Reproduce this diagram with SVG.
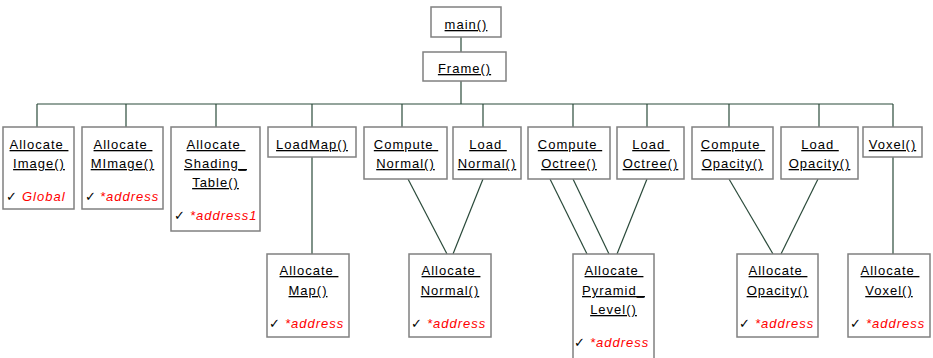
<svg xmlns="http://www.w3.org/2000/svg" width="933" height="358" viewBox="0 0 933 358">
<style>
.box{fill:#fff;stroke:#808080;stroke-width:1.5}
.c{stroke:#2a4a3a;stroke-width:1.2;fill:none}
.t{font-family:"Liberation Sans",Arial,sans-serif;font-size:13px;letter-spacing:1px;fill:#000;text-anchor:middle;text-decoration:underline;white-space:pre}
.ck{font-family:"DejaVu Sans",sans-serif;font-size:13px;fill:#000}
.r{font-family:"Liberation Sans",Arial,sans-serif;font-size:13px;font-style:italic;letter-spacing:1px;fill:#ff0000}
</style>
<rect width="933" height="358" fill="#fff"/>
<g id="connectors">
<line class="c" x1="461" y1="37" x2="461" y2="52"/>
<line class="c" x1="461" y1="81" x2="461" y2="104"/>
<line class="c" x1="37" y1="104" x2="893" y2="104"/>
<line class="c" x1="37" y1="104" x2="37" y2="127"/>
<line class="c" x1="126" y1="104" x2="126" y2="127"/>
<line class="c" x1="216" y1="104" x2="216" y2="127"/>
<line class="c" x1="312" y1="104" x2="312" y2="127"/>
<line class="c" x1="402" y1="104" x2="402" y2="127"/>
<line class="c" x1="483" y1="104" x2="483" y2="127"/>
<line class="c" x1="573" y1="104" x2="573" y2="127"/>
<line class="c" x1="647" y1="104" x2="647" y2="127"/>
<line class="c" x1="729" y1="104" x2="729" y2="127"/>
<line class="c" x1="819" y1="104" x2="819" y2="127"/>
<line class="c" x1="893" y1="104" x2="893" y2="127"/>
<line class="c" x1="312" y1="157" x2="312" y2="254"/>
<line class="c" x1="408" y1="179" x2="447" y2="254"/>
<line class="c" x1="483" y1="179" x2="453" y2="254"/>
<line class="c" x1="550" y1="179" x2="587" y2="254"/>
<line class="c" x1="573" y1="179" x2="609" y2="254"/>
<line class="c" x1="647" y1="179" x2="617" y2="254"/>
<line class="c" x1="729" y1="179" x2="773" y2="254"/>
<line class="c" x1="818" y1="179" x2="781" y2="254"/>
<line class="c" x1="893" y1="157" x2="893" y2="254"/>
</g>
<g id="main"><rect class="box" x="431" y="7" width="70" height="30"/><text class="t" x="466" y="29">main()</text></g>
<g id="frame"><rect class="box" x="423" y="52" width="83" height="29"/><text class="t" x="464.5" y="73">Frame()</text></g>
<g id="allocateImage"><rect class="box" x="3" y="127" width="71" height="82"/>
<text class="t" x="39" y="149">Allocate </text><text class="t" x="39" y="168">Image()</text>
<text class="ck" x="6" y="201">✓</text><text class="r" x="22" y="201">Global</text></g>
<g id="allocateMImage"><rect class="box" x="82" y="127" width="81" height="82"/>
<text class="t" x="123" y="149">Allocate </text><text class="t" x="122.5" y="168">MImage()</text>
<text class="ck" x="85" y="201">✓</text><text class="r" x="100" y="201">*address</text></g>
<g id="allocateShadingTable"><rect class="box" x="171" y="127" width="89" height="104"/>
<text class="t" x="216" y="149">Allocate </text><text class="t" x="215.5" y="168">Shading_</text><text class="t" x="215.5" y="187">Table()</text>
<text class="ck" x="174" y="220">✓</text><text class="r" x="190" y="220">*address1</text></g>
<g id="loadMap"><rect class="box" x="268" y="127" width="88" height="30"/><text class="t" x="312" y="149">LoadMap()</text></g>
<g id="computeNormal"><rect class="box" x="364" y="127" width="83" height="52"/>
<text class="t" x="406" y="149">Compute </text><text class="t" x="405.5" y="168">Normal()</text></g>
<g id="loadNormal"><rect class="box" x="453" y="127" width="68" height="52"/>
<text class="t" x="488" y="149">Load </text><text class="t" x="487" y="168">Normal()</text></g>
<g id="computeOctree"><rect class="box" x="528" y="127" width="82" height="52"/>
<text class="t" x="570" y="149">Compute </text><text class="t" x="569" y="168">Octree()</text></g>
<g id="loadOctree"><rect class="box" x="617" y="127" width="67" height="52"/>
<text class="t" x="651" y="149">Load </text><text class="t" x="650.5" y="168">Octree()</text></g>
<g id="computeOpacity"><rect class="box" x="692" y="127" width="81" height="52"/>
<text class="t" x="733" y="149">Compute </text><text class="t" x="732.5" y="168">Opacity()</text></g>
<g id="loadOpacity"><rect class="box" x="781" y="127" width="77" height="52"/>
<text class="t" x="820" y="149">Load </text><text class="t" x="819.5" y="168">Opacity()</text></g>
<g id="voxel"><rect class="box" x="863" y="127" width="59" height="30"/><text class="t" x="892.5" y="149">Voxel()</text></g>
<g id="allocateMap"><rect class="box" x="267" y="254" width="82" height="83"/>
<text class="t" x="309" y="275">Allocate </text><text class="t" x="308" y="295">Map()</text>
<text class="ck" x="269" y="328">✓</text><text class="r" x="285" y="328">*address</text></g>
<g id="allocateNormal"><rect class="box" x="409" y="254" width="82" height="83"/>
<text class="t" x="451" y="275">Allocate </text><text class="t" x="450" y="295">Normal()</text>
<text class="ck" x="411" y="328">✓</text><text class="r" x="427" y="328">*address</text></g>
<g id="allocatePyramidLevel"><rect class="box" x="573" y="254" width="81" height="110"/>
<text class="t" x="614" y="275">Allocate </text><text class="t" x="613.5" y="295">Pyramid_</text><text class="t" x="613.5" y="314">Level()</text>
<text class="ck" x="574" y="347">✓</text><text class="r" x="590" y="347">*address</text></g>
<g id="allocateOpacity"><rect class="box" x="737" y="254" width="81" height="83"/>
<text class="t" x="778" y="275">Allocate </text><text class="t" x="777.5" y="295">Opacity()</text>
<text class="ck" x="739" y="328">✓</text><text class="r" x="755" y="328">*address</text></g>
<g id="allocateVoxel"><rect class="box" x="848" y="254" width="82" height="83"/>
<text class="t" x="890" y="275">Allocate </text><text class="t" x="889" y="295">Voxel()</text>
<text class="ck" x="850" y="328">✓</text><text class="r" x="866" y="328">*address</text></g>
</svg>
